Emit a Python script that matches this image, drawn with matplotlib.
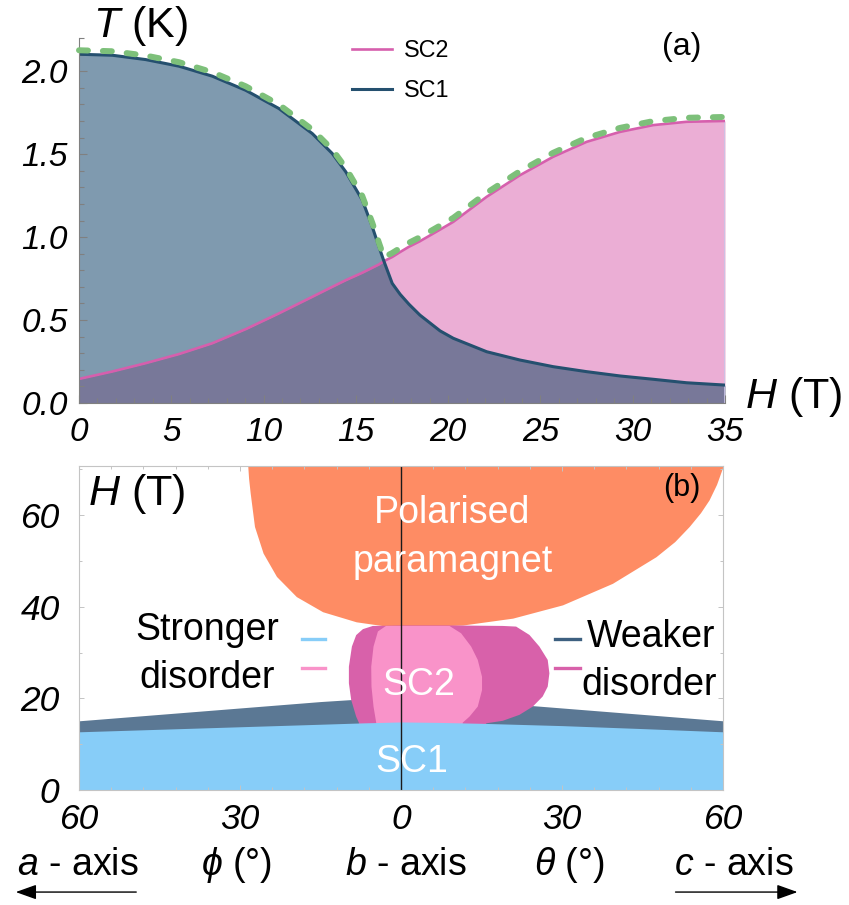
import numpy as np
import matplotlib.pyplot as plt
from matplotlib.lines import Line2D
from matplotlib.ticker import MultipleLocator
from matplotlib.transforms import offset_copy

plt.rcParams['font.family'] = ['Liberation Sans', 'DejaVu Sans']
plt.rcParams['mathtext.fontset'] = 'custom'
plt.rcParams['mathtext.rm'] = 'Liberation Sans'
plt.rcParams['mathtext.it'] = 'Liberation Sans:italic'

# ---- panel (a): T_c(H) for the two superconducting phases ----
field = [0, 1.81, 3.61, 5.42, 7.22, 9.03, 10.83, 12.64, 13.72, 14.45, 15.35,
         15.89, 16.25, 16.52, 16.97, 17.4, 17.88, 18.47, 19.56, 20.28, 22.09,
         23.89, 25.69, 27.5, 29.31, 31.11, 32.92, 35]
tc_sc1 = [2.102, 2.096, 2.070, 2.030, 1.970, 1.885, 1.775, 1.624, 1.504,
          1.394, 1.223, 1.062, 0.942, 0.855, 0.721, 0.655, 0.595, 0.53, 0.435,
          0.39, 0.309, 0.259, 0.219, 0.189, 0.163, 0.143, 0.122, 0.108]
tc_sc2 = [0.145, 0.19, 0.24, 0.295, 0.36, 0.445, 0.54, 0.64, 0.70, 0.74,
          0.785, 0.815, 0.835, 0.855, 0.88, 0.91, 0.942, 0.975, 1.045, 1.092,
          1.243, 1.373, 1.484, 1.574, 1.634, 1.675, 1.695, 1.70]
xticks_a = [0, 5, 10, 15, 20, 25, 30, 35]
yticks_a = [0.0, 0.5, 1.0, 1.5, 2.0]

# ---- panel (b): angle-field phase diagram ----
# negative angle = phi (towards a), positive = theta (towards c)
angle_sc1 = [-60, -45, -30, -15, -7, 0, 7, 15, 30, 45, 60]
h_sc1_strong = [12.7, 13.25, 13.8, 14.35, 14.65, 14.85, 14.75, 14.55, 14.05,
                13.4, 12.7]
h_sc1_weak = [15.1, 16.5, 17.9, 19.3, 19.9, 20.2, 19.9, 19.3, 17.9, 16.5,
              15.1]
angle_sc2_weak = [-7.85, -7.85, -8.35, -9.28, -9.71, -9.71, -9.15, -8.35,
                  -7.1, -5.25, 0, 10, 18.96, 21.45, 23.93, 25.79, 27.34,
                  27.65, 27.34, 26.4, 24.55, 22.07, 18.96, 15.87, 15.87]
h_sc2_weak = [14.0, 14.7, 16.0, 19.65, 23.3, 26.9, 31.3, 33.8, 35.1, 35.8,
              35.9, 35.9, 35.8, 35.66, 33.84, 31.3, 28.38, 25.47, 22.56, 20.4,
              18.2, 16.4, 15.1, 14.55, 14.0]
angle_sc2_strong = [-4.62, -4.62, -5.12, -5.5, -5.55, -5.12, -4.3, -2.8,
                    9.03, 11.2, 13.07, 14.3, 15.1, 15.1, 14.3, 12.75, 11.5,
                    11.5]
h_sc2_strong = [14.0, 14.7, 18.2, 22.56, 26.9, 31.3, 34.6, 35.8, 35.8, 34.2,
                31.3, 28.4, 24.7, 21.8, 18.2, 16.0, 14.7, 14.0]
angle_pp = [-28.6, -28.4, -28.1, -27.3, -25.7, -23.2, -19.5, -14.6, -8.35,
            -2.1, 2.8, 11.5, 20.8, 30.1, 39.4, 47.5, 51.0, 53.7, 55.8, 57.4,
            58.8, 60]
h_pp = [71.5, 68.0, 64.8, 57.5, 51.7, 46.6, 42.2, 38.9, 36.7, 35.65, 35.6,
        36.0, 37.5, 40.4, 45.1, 50.9, 54.2, 57.5, 60.5, 63.3, 66.7, 70.6]
xticks_b = [-60, -30, 0, 30, 60]
xticklabels_b = ['60', '30', '0', '30', '60']
yticks_b = [0, 20, 40, 60]

c_sc1_line = '#25506f'
c_sc2_line = '#d65fad'

fig = plt.figure(figsize=(8.49, 9.05), dpi=100)
W, Hf = 849, 905
ax1 = fig.add_axes([79 / W, 1 - 403 / Hf, 646 / W, 365 / Hf])
ax2 = fig.add_axes([79 / W, 1 - 790 / Hf, 644 / W, 324 / Hf])

# ---------------- panel (a) ----------------
H = np.asarray(field)
t1 = np.asarray(tc_sc1)
t2 = np.asarray(tc_sc2)
low = np.minimum(t1, t2)
ax1.fill_between(H, 0, low, color='#787899', lw=0)
ax1.fill_between(H, low, t1, color='#7f9aaf', lw=0)
ax1.fill_between(H, low, t2, color='#ebaed5', lw=0)
ax1.axvline(35, ymin=0, ymax=1.70 / 2.2, color='#c9c4e6', lw=1.2)
l2, = ax1.plot(H, t2, color=c_sc2_line, lw=1.9, label='SC2')
l1, = ax1.plot(H, t1, color=c_sc1_line, lw=2.2, label='SC1')
up = offset_copy(ax1.transData, fig=fig, x=0, y=4, units='dots')
ax1.plot(H, np.maximum(t1, t2), color='#7dc07a', lw=4.3,
         linestyle=(0, (1.5, 2.5)), dash_capstyle='round', transform=up,
         clip_on=False, zorder=5)
ax1.set_xlim(0, 35)
ax1.set_ylim(0, 2.2)
for s in ['top', 'right']:
    ax1.spines[s].set_visible(False)
for s in ['left', 'bottom']:
    ax1.spines[s].set_color('#808080')
    ax1.spines[s].set_linewidth(0.8)
ax1.set_xticks(xticks_a)
ax1.set_xticklabels([str(v) for v in xticks_a], fontstyle='italic',
                    fontsize=24)
ax1.set_yticks(yticks_a)
ax1.set_yticklabels(['%.1f' % v for v in yticks_a], fontstyle='italic',
                    fontsize=24)
ax1.xaxis.set_minor_locator(MultipleLocator(1))
ax1.yaxis.set_minor_locator(MultipleLocator(0.1))
ax1.tick_params(which='both', direction='in', color='#808080', width=0.8)
ax1.tick_params(which='major', length=5.8)
ax1.tick_params(which='minor', length=3.6)
ax1.tick_params(axis='x', pad=10)
ax1.tick_params(axis='y', pad=8)
ax1.text(0.022, 1.003, '$T$ (K)', transform=ax1.transAxes, fontsize=31,
         ha='left', va='baseline')
ax1.text(1.031, -0.014, '$H$ (T)', transform=ax1.transAxes, fontsize=31,
         ha='left', va='baseline', clip_on=False)
ax1.text(0.933, 0.975, '(a)', transform=ax1.transAxes, fontsize=23,
         ha='center', va='center')
ax1.legend(handles=[l2, l1], loc='upper left',
           bbox_to_anchor=(0.4226, 0.996), frameon=False, fontsize=16.8,
           borderpad=0, borderaxespad=0, handlelength=1.71,
           handletextpad=0.5, labelspacing=0.71)

# ---------------- panel (b) ----------------
ax2.fill_between(angle_pp, h_pp, 80, color='#fe8c64', lw=0)
ax2.fill_between(angle_sc1, 0, h_sc1_weak, color='#5b7894', lw=0)
ax2.fill(angle_sc2_weak, h_sc2_weak, color='#d861aa', lw=0)
ax2.fill(angle_sc2_strong, h_sc2_strong, color='#f993c9', lw=0)
ax2.fill_between(angle_sc1, 0, h_sc1_strong, color='#87cdf8', lw=0)
ax2.axvline(0, color='#1a1a1a', lw=1.0)
ax2.set_xlim(-60, 60)
ax2.set_ylim(0, 70.7)
for s in ax2.spines.values():
    s.set_color('#c4c4c4')
    s.set_linewidth(0.8)
ax2.set_xticks(xticks_b)
ax2.set_xticklabels(xticklabels_b, fontstyle='italic', fontsize=25.5)
ax2.set_yticks(yticks_b)
ax2.set_yticklabels([str(v) for v in yticks_b], fontstyle='italic',
                    fontsize=25.5)
ax2.xaxis.set_minor_locator(MultipleLocator(6))
ax2.yaxis.set_minor_locator(MultipleLocator(10))
ax2.tick_params(which='both', direction='in', color='#c4c4c4', width=0.7,
                top=True, right=True)
ax2.tick_params(which='major', length=3.6)
ax2.tick_params(which='minor', length=2.2)
ax2.tick_params(axis='x', pad=9)
ax2.tick_params(axis='y', pad=14)

ax2.text(0.014, 0.88, '$H$ (T)', transform=ax2.transAxes, fontsize=31,
         ha='left', va='baseline')
ax2.text(0.936, 0.932, '(b)', transform=ax2.transAxes, fontsize=22,
         ha='center', va='center')
white = dict(color='white', fontsize=27, ha='center', va='baseline')
ax2.text(9.6, 58.3, 'Polarised', **white)
ax2.text(9.6, 47.6, 'paramagnet', **white)
ax2.text(3.4, 20.7, 'SC2', **white)
ax2.text(2.0, 4.0, 'SC1', **white)
black = dict(color='black', fontsize=27, ha='center', va='baseline')
ax2.text(-36.2, 32.75, 'Stronger', **black)
ax2.text(-36.2, 22.3, 'disorder', **black)
ax2.text(46.5, 31.2, 'Weaker', **black)
ax2.text(46.3, 20.7, 'disorder', **black)

# little key dashes next to the disorder labels
keys = [((0.3458, 0.382), 0.466, '#87cdf8'),
        ((0.3458, 0.382), 0.3765, '#f993c9'),
        ((0.739, 0.778), 0.466, '#3d6080'),
        ((0.739, 0.778), 0.3765, '#d861aa')]
for (xa, xb), yk, ck in keys:
    ax2.add_line(Line2D([xa, xb], [yk, yk], color=ck, lw=2.4,
                        transform=ax2.transAxes))

# axis direction labels below panel (b)
bottom = dict(transform=ax2.transAxes, fontsize=27, ha='center',
              va='baseline')
ax2.text(-0.002, -0.262, '$a$ - axis', **bottom)
ax2.text(0.245, -0.262, r'$\phi$ (°)', **bottom)
ax2.text(0.508, -0.262, '$b$ - axis', **bottom)
ax2.text(0.761, -0.262, r'$\theta$ (°)', **bottom)
ax2.text(1.017, -0.262, '$c$ - axis', **bottom)
arrow = dict(arrowstyle='-|>,head_length=0.7,head_width=0.25', color='black',
             lw=1.0, mutation_scale=18)
ax2.annotate('', xy=(-0.1025, -0.315), xytext=(0.0932, -0.315),
             xycoords='axes fraction', arrowprops=arrow, annotation_clip=False)
ax2.annotate('', xy=(1.12, -0.315), xytext=(0.922, -0.315),
             xycoords='axes fraction', arrowprops=arrow, annotation_clip=False)

fig.savefig('out.png', dpi=100)
